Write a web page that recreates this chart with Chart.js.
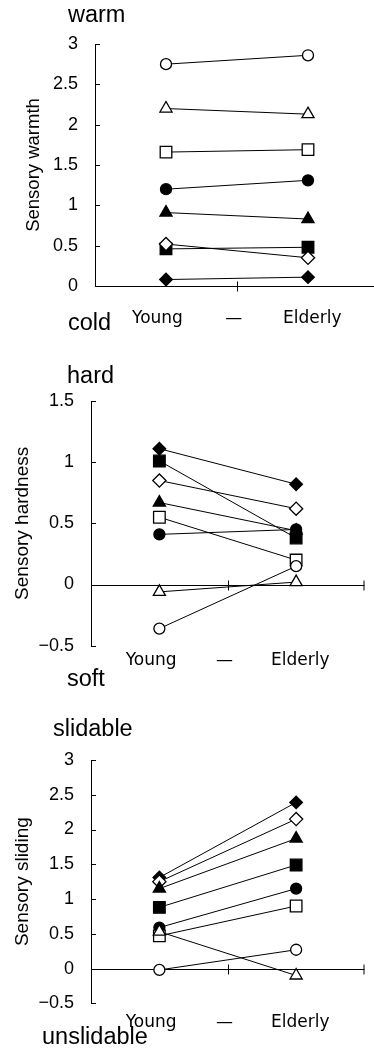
<!DOCTYPE html>
<html>
<head>
<meta charset="utf-8">
<script src="https://cdn.jsdelivr.net/npm/chart.js@4.4.1/dist/chart.umd.min.js"></script>
<style>
  html, body { margin:0; padding:0; background:#fff; width:374px; height:1048px; overflow:hidden; position:relative; }
  canvas { position:absolute; left:0; }
  .lbl { position:absolute; font-family:"Liberation Sans", Arial, sans-serif; font-size:23.5px; line-height:23.5px; color:#000; white-space:nowrap; }
</style>
</head>
<body>
<canvas id="c1" width="392" height="330" style="top:0px;width:392px;height:330px"></canvas>
<canvas id="c2" width="374" height="370" style="top:330px;width:374px;height:370px"></canvas>
<canvas id="c3" width="374" height="348" style="top:700px;width:374px;height:348px"></canvas>

<div class="lbl" style="left:68px;top:3px">warm</div>
<div class="lbl" style="left:68px;top:311px">cold</div>
<div class="lbl" style="left:67px;top:364px">hard</div>
<div class="lbl" style="left:67px;top:667px">soft</div>
<div class="lbl" style="left:53px;top:717px">slidable</div>
<div class="lbl" style="left:42px;top:1025px">unslidable</div>

<script>
// ---- data ----
const groups = ['Young', 'Elderly'];
const tickLabels = ['Young', '\u2014', 'Elderly'];
const seriesNames = ['openCircle', 'openTriangle', 'openSquare', 'filledCircle', 'filledTriangle', 'openDiamond', 'filledSquare', 'filledDiamond'];

// Sensory warmth
const warmOpenCircle     = [2.75, 2.86];
const warmOpenTriangle   = [2.20, 2.13];
const warmOpenSquare     = [1.66, 1.69];
const warmFilledCircle   = [1.20, 1.31];
const warmFilledTriangle = [0.91, 0.83];
const warmOpenDiamond    = [0.52, 0.35];
const warmFilledSquare   = [0.46, 0.48];
const warmFilledDiamond  = [0.08, 0.11];

// Sensory hardness
const hardOpenCircle     = [-0.36, 0.15];
const hardOpenTriangle   = [-0.06, 0.02];
const hardOpenSquare     = [0.55, 0.20];
const hardFilledCircle   = [0.41, 0.45];
const hardFilledTriangle = [0.67, 0.44];
const hardOpenDiamond    = [0.85, 0.62];
const hardFilledSquare   = [1.01, 0.38];
const hardFilledDiamond  = [1.11, 0.82];

// Sensory sliding
const slideOpenCircle     = [-0.02, 0.27];
const slideOpenTriangle   = [0.53, -0.10];
const slideOpenSquare     = [0.47, 0.90];
const slideFilledCircle   = [0.59, 1.15];
const slideFilledTriangle = [1.15, 1.87];
const slideOpenDiamond    = [1.25, 2.15];
const slideFilledSquare   = [0.88, 1.49];
const slideFilledDiamond  = [1.31, 2.39];

// ---- styles ----
const markerStyles = {
  openCircle:     { pointStyle:'circle',   fill:'#fff', r:5.5 },
  openTriangle:   { pointStyle:'triangle', fill:'#fff', r:7 },
  openSquare:     { pointStyle:'rect',     fill:'#fff', r:8.2 },
  filledCircle:   { pointStyle:'circle',   fill:'#000', r:5.5 },
  filledTriangle: { pointStyle:'triangle', fill:'#000', r:7 },
  openDiamond:    { pointStyle:'rectRot',  fill:'#fff', r:6.6 },
  filledSquare:   { pointStyle:'rect',     fill:'#000', r:8.2 },
  filledDiamond:  { pointStyle:'rectRot',  fill:'#000', r:6.3 }
};

const axisDecor = {
  id: 'axisDecor',
  beforeDatasetsDraw(chart) {
    const {ctx, chartArea, scales} = chart;
    const x = scales.x, y = scales.y;
    ctx.save();
    ctx.strokeStyle = '#000';
    ctx.lineWidth = 1;
    ctx.beginPath();
    const y0 = Math.round(y.getPixelForValue(0)) + 0.5;
    ctx.moveTo(chartArea.left, y0);
    ctx.lineTo(chartArea.right, y0);
    [1, 2].forEach(v => {
      let px = Math.round(x.getPixelForValue(v)) + 0.5;
      if (px > chartArea.right) px = chartArea.right - 0.5;
      ctx.moveTo(px, y0 - 5);
      ctx.lineTo(px, y0 + 5);
    });
    y.ticks.forEach(t => {
      const py = Math.round(y.getPixelForValue(t.value)) + 0.5;
      ctx.moveTo(chartArea.left, py);
      ctx.lineTo(chartArea.left + 5, py);
    });
    ctx.stroke();
    ctx.restore();
  }
};

function makeChart(id, cfg) {
  const datasets = seriesNames.map((name, k) => {
    const st = markerStyles[name];
    return {
      label: name,
      data: cfg.series[k].map((v, i) => ({ x: i + 0.5, y: v })),
      borderColor: '#000',
      borderWidth: 1,
      pointStyle: st.pointStyle,
      pointRadius: st.r,
      pointBackgroundColor: st.fill,
      pointBorderColor: '#000',
      pointBorderWidth: 1.3,
      fill: false,
      tension: 0
    };
  });
  return new Chart(document.getElementById(id), {
    type: 'line',
    data: { datasets },
    plugins: [axisDecor],
    options: {
      responsive: false,
      animation: false,
      events: [],
      layout: { padding: { top: cfg.padTop, right: cfg.padRight, left: 0, bottom: 0 } },
      plugins: { legend: { display: false }, tooltip: { enabled: false } },
      scales: {
        x: {
          type: 'linear', min: 0, max: 2,
          grid: { display: false, drawTicks: false },
          border: { display: false },
          afterFit: s => { s.height = cfg.xHeight; },
          afterBuildTicks: s => { s.ticks = [0.44, 0.977, 1.53].map(v => ({ value: v })); },
          ticks: {
            autoSkip: false, maxRotation: 0, minRotation: 0,
            padding: cfg.xPad,
            color: '#000',
            font: { family: '"DejaVu Sans", sans-serif', size: 17 },
            callback: (v, i) => tickLabels[i]
          }
        },
        y: {
          min: cfg.yMin, max: cfg.yMax,
          grid: { display: false, drawTicks: false },
          border: { display: true, color: '#000', width: 1 },
          afterFit: s => { s.width = cfg.left; },
          ticks: {
            stepSize: 0.5,
            padding: 17,
            color: '#000',
            font: { family: '"Liberation Sans", Arial, sans-serif', size: 18 },
            callback: v => (v < 0 ? '\u2212' + Math.abs(v) : String(v))
          },
          title: {
            display: true,
            text: cfg.yTitle,
            color: '#000',
            padding: { top: cfg.titlePad, bottom: 0 },
            font: { family: '"Liberation Sans", Arial, sans-serif', size: cfg.titleSize }
          }
        }
      }
    }
  });
}

makeChart('c1', {
  series: [warmOpenCircle, warmOpenTriangle, warmOpenSquare, warmFilledCircle, warmFilledTriangle, warmOpenDiamond, warmFilledSquare, warmFilledDiamond],
  yMin: 0, yMax: 3, yTitle: 'Sensory warmth',
  padTop: 44, padRight: 13, xHeight: 44, xPad: 22, left: 95, titlePad: 23, titleSize: 18.5
});
makeChart('c2', {
  series: [hardOpenCircle, hardOpenTriangle, hardOpenSquare, hardFilledCircle, hardFilledTriangle, hardOpenDiamond, hardFilledSquare, hardFilledDiamond],
  yMin: -0.5, yMax: 1.5, yTitle: 'Sensory hardness',
  padTop: 71, padRight: 7, xHeight: 54.3, xPad: 5, left: 91, titlePad: 11, titleSize: 19
});
makeChart('c3', {
  series: [slideOpenCircle, slideOpenTriangle, slideOpenSquare, slideFilledCircle, slideFilledTriangle, slideOpenDiamond, slideFilledSquare, slideFilledDiamond],
  yMin: -0.5, yMax: 3, yTitle: 'Sensory sliding',
  padTop: 60, padRight: 7, xHeight: 44.7, xPad: 9.5, left: 91, titlePad: 11, titleSize: 19
});
</script>
</body>
</html>
